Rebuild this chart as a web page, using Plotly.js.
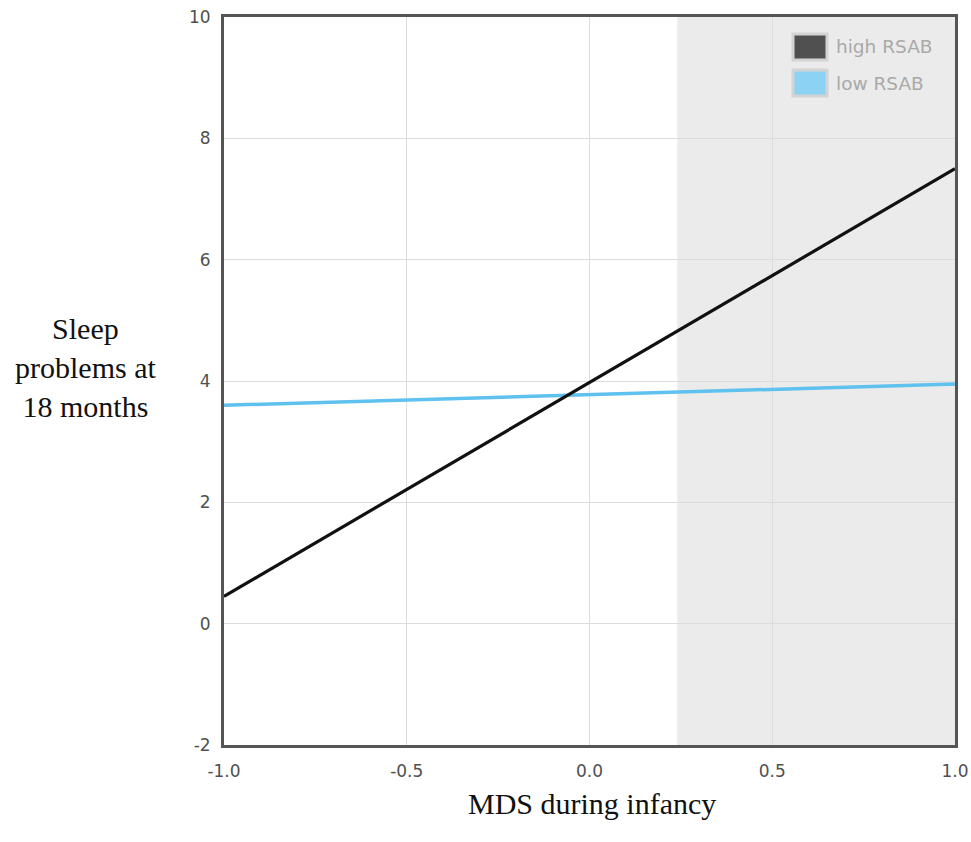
<!DOCTYPE html>
<html>
<head>
<meta charset="utf-8">
<script src="https://cdn.plot.ly/plotly-3.0.1.min.js"></script>
<style>html,body{margin:0;padding:0;background:#fff;}#chart{width:971px;height:842px;}</style>
</head>
<body>
<div id="chart"></div>
<script>
const xValues = [-1.0, 1.0];
const highRSAB = [0.45, 7.5];
const lowRSAB = [3.6, 3.95];
const seriesNames = ["high RSAB", "low RSAB"];
const seriesColors = ["#111111", "#5fc1ee"];
const swatchColors = ["#505050", "#8cd2f3"];
const xTicks = [-1.0, -0.5, 0.0, 0.5, 1.0];
const xTickLabels = ["-1.0", "-0.5", "0.0", "0.5", "1.0"];
const yTicks = [-2, 0, 2, 4, 6, 8, 10];
const yTickLabels = ["-2", "0", "2", "4", "6", "8", "10"];
const regionStart = 0.24;
const regionEnd = 1.0;

const traces = [
  {x: xValues, y: lowRSAB, mode: "lines", name: seriesNames[1], line: {color: seriesColors[1], width: 3.5}, showlegend: false, hoverinfo: "skip"},
  {x: xValues, y: highRSAB, mode: "lines", name: seriesNames[0], line: {color: seriesColors[0], width: 3.2}, showlegend: false, hoverinfo: "skip"}
];

const tickFont = {family: "DejaVu Sans, Verdana, sans-serif", size: 17, color: "#505050"};
const serif = {family: "Liberation Serif, Times New Roman, serif", size: 30, color: "#111"};

// manual legend (boxes + labels) in paper coordinates
const legendRows = [
  {y0: 0.9409, y1: 0.9766, yc: 0.9588},
  {y0: 0.8915, y1: 0.9272, yc: 0.9093}
];
const legendShapes = legendRows.map((r, i) => ({
  type: "rect", xref: "paper", yref: "paper", x0: 0.7784, x1: 0.8249, y0: r.y0, y1: r.y1,
  fillcolor: swatchColors[i], line: {color: "#d3d3d3", width: 3}, layer: "above"
}));
const legendLabels = legendRows.map((r, i) => ({
  text: seriesNames[i], xref: "paper", yref: "paper", x: 0.8345, y: r.yc,
  xanchor: "left", yanchor: "middle", showarrow: false,
  font: {family: "DejaVu Sans, Verdana, sans-serif", size: 18.5, color: "#a9a9a9"}
}));

const layout = {
  width: 971, height: 842,
  margin: {l: 224, r: 16, t: 17, b: 97},
  paper_bgcolor: "#ffffff", plot_bgcolor: "#ffffff",
  showlegend: false,
  xaxis: {
    range: [-1, 1], tickvals: xTicks, ticktext: xTickLabels,
    showgrid: true, gridcolor: "#dcdcdc", gridwidth: 1,
    zeroline: false, showline: true, mirror: true, linecolor: "#555555", linewidth: 3,
    ticks: "", tickfont: tickFont, ticklabelstandoff: 9, automargin: false
  },
  yaxis: {
    range: [-2, 10], tickvals: yTicks, ticktext: yTickLabels,
    showgrid: true, gridcolor: "#dcdcdc", gridwidth: 1,
    zeroline: false, showline: true, mirror: true, linecolor: "#555555", linewidth: 3,
    ticks: "", tickfont: tickFont, ticklabelstandoff: 7, automargin: false
  },
  shapes: [{
    type: "rect", xref: "x", yref: "paper", x0: regionStart, x1: regionEnd, y0: 0, y1: 1,
    fillcolor: "#ebebeb", line: {width: 0}, layer: "below"
  }].concat(legendShapes),
  annotations: [
    {text: "Sleep<br>problems at<br>18 months", xref: "paper", yref: "paper",
     x: -0.19, y: 0.518, xanchor: "center", yanchor: "middle", showarrow: false, align: "center",
     font: serif},
    {text: "MDS during infancy", xref: "paper", yref: "paper",
     x: 0.504, y: -0.0797, xanchor: "center", yanchor: "middle", showarrow: false,
     font: serif}
  ].concat(legendLabels)
};

Plotly.newPlot("chart", traces, layout, {displayModeBar: false, staticPlot: true});
</script>
</body>
</html>
